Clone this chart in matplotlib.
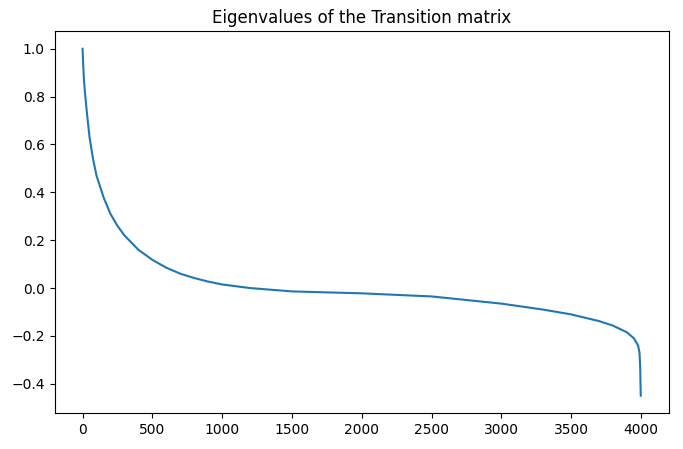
import matplotlib
matplotlib.use("Agg")
import matplotlib.pyplot as plt

index = [0, 5, 10, 20, 30, 50, 75, 100, 150, 200, 250, 300, 400, 500, 600, 700, 800, 900, 1000,
         1200, 1500, 2000, 2500, 3000, 3300, 3500, 3700, 3800, 3900, 3950, 3980, 3990, 3995, 3999]
eigenvalues = [1.0, 0.93, 0.87, 0.8, 0.74, 0.63, 0.54, 0.47, 0.38, 0.31, 0.26, 0.22, 0.16, 0.118,
               0.085, 0.06, 0.042, 0.027, 0.015, 0.0, -0.014, -0.022, -0.035, -0.065, -0.09,
               -0.11, -0.138, -0.157, -0.185, -0.21, -0.24, -0.27, -0.33, -0.45]

fig = plt.figure(figsize=(6.83, 4.49), dpi=100)
ax = fig.add_axes([0.08, 0.08, 0.899, 0.85])
ax.plot(index, eigenvalues, color="#1f77b4")
ax.set_title("Eigenvalues of the Transition matrix")
ax.set_xticks([0, 500, 1000, 1500, 2000, 2500, 3000, 3500, 4000])
ax.set_yticks([-0.4, -0.2, 0.0, 0.2, 0.4, 0.6, 0.8, 1.0])
fig.savefig("out.png", dpi=100)
